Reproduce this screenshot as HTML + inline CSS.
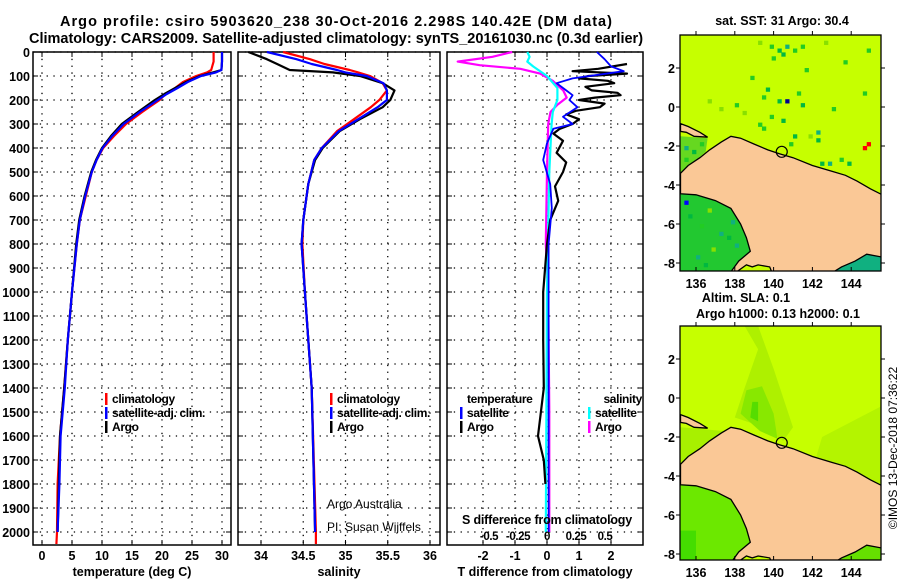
<!DOCTYPE html>
<html><head><meta charset="utf-8"><style>
body{margin:0;background:#fff;}
svg{display:block;font-family:"Liberation Sans",sans-serif;}
.b{font-weight:bold;}
</style></head><body>
<svg id="c" width="900" height="580" viewBox="0 0 900 580" xmlns="http://www.w3.org/2000/svg">
<text x="336" y="26" text-anchor="middle" class="b" font-size="14.5" textLength="552" lengthAdjust="spacing">Argo profile: csiro 5903620_238 30-Oct-2016 2.298S 140.42E (DM data)</text>
<text x="336" y="43" text-anchor="middle" class="b" font-size="14.5">Climatology: CARS2009. Satellite-adjusted climatology: synTS_20161030.nc (0.3d earlier)</text>
<g id="g"></g>
</svg>
<script>
// ---------- data ----------
const tDepthArgo=[0,40,75,85,100,125,150,175,200,250,300,350,400,450,500,600,700,800,1000,1200,1400,1600,1800,2000];
const tArgo=[30.0,30.0,29.9,28.5,26.3,24.0,22.2,20.4,18.8,16.0,13.3,11.5,10.0,9.0,8.2,7.1,6.2,5.7,5.0,4.3,3.7,3.0,2.8,2.6];
const tDepthSat=[0,40,75,85,100,125,150,175,200,250,300,350,400,450,500,600,700,800,1000,1200,1400,1600,1800,2000];
const tSat=[30.0,30.0,29.9,29.0,26.5,24.3,22.6,20.8,19.3,16.3,13.6,11.7,10.1,9.1,8.3,7.2,6.3,5.8,5.0,4.3,3.8,3.1,2.9,2.6];
const tDepthClim=[0,40,75,85,100,125,150,175,200,250,300,350,400,450,500,600,700,800,1000,1200,1400,1600,1800,2000,2050];
const tClim=[28.6,28.6,28.2,27.5,25.7,23.5,22.2,20.6,19.6,16.7,14.0,12.0,10.2,9.1,8.3,7.3,6.3,5.8,5.0,4.3,3.7,3.0,2.6,2.5,2.4];
const sDepth=[0,30,50,75,85,100,130,160,200,230,280,330,400,450,550,700,800,1000,1400,2000];
const sArgo=[33.85,34.07,34.19,34.34,34.85,35.17,35.44,35.58,35.53,35.44,35.17,34.93,34.73,34.64,34.56,34.5,34.48,34.52,34.6,34.64];
const sSat=[34.07,34.42,34.6,34.9,35.0,35.25,35.45,35.49,35.49,35.38,35.15,34.92,34.72,34.63,34.56,34.5,34.48,34.52,34.6,34.64];
const sDepthClim=[0,30,50,75,85,100,130,160,200,230,280,330,400,450,550,700,800,1000,1400,2000,2050];
const sClim=[34.26,34.58,34.75,35.05,35.15,35.29,35.44,35.49,35.4,35.3,35.1,34.9,34.72,34.63,34.56,34.5,34.49,34.52,34.6,34.65,34.65];
const dtArgoDepth=[50,70,80,90,100,110,120,130,145,160,170,180,190,200,215,230,245,260,280,300,320,340,370,420,460,500,560,620,700,800,1000,1200,1400,1600,1700,1800];
const dtArgo=[2.5,1.6,0.8,2.5,1.3,1.0,1.9,2.1,1.2,1.4,2.2,2.3,1.5,1.0,1.8,1.65,0.9,0.6,1.0,0.8,0.4,0.2,0.5,0.3,0.6,0.5,0.25,0.35,0.1,0.0,-0.12,-0.12,-0.1,-0.28,-0.1,-0.05];
const dtSatDepth=[0,30,60,80,110,130,160,180,200,230,270,300,320,380,450,550,650,800,1000,1500,2000];
const dtSat=[1.56,1.8,2.0,2.4,0.8,0.3,0.6,0.8,0.7,0.95,0.5,0.8,0.2,0.0,-0.12,0.1,0.15,0.05,0.05,0.05,0.05];
const dsArgoDepth=[0,20,40,55,70,90,120,160,190,220,250,300,500,800,1000,1500,2000];
const dsArgo=[-0.30,-0.47,-0.77,-0.58,-0.23,-0.06,0.05,0.14,0.17,0.09,0.03,0.01,0.0,-0.01,0.01,0.02,0.02];
const dsSatDepth=[0,20,40,60,100,150,200,250,300,500,1000,2000];
const dsSat=[-0.17,-0.15,-0.17,-0.12,0.0,0.09,0.09,0.05,0.04,0.02,0.0,-0.01];
const tTicks=[0,5,10,15,20,25,30];
const sTicks=[34,34.5,35,35.5,36];
const sTickLabels=["34","34.5","35","35.5","36"];
const dtTicks=[-2,-1,0,1,2];
const dsTicks=[-0.5,-0.25,0,0.25,0.5];
const dsTickLabels=["-0.5","-0.25","0","0.25","0.5"];
const depthTicks=[0,100,200,300,400,500,600,700,800,900,1000,1100,1200,1300,1400,1500,1600,1700,1800,1900,2000];
const lonTicks=[136,138,140,142,144];
const latTicks=[2,0,-2,-4,-6,-8];
// ---------- helpers ----------
const NS="http://www.w3.org/2000/svg";
const G=document.getElementById('g');
function mk(tag,attrs,parent){const e=document.createElementNS(NS,tag);for(const k in attrs)e.setAttribute(k,attrs[k]);(parent||G).appendChild(e);return e;}
function txt(x,y,s,size,anchor,bold,parent){const e=mk('text',{x:x,y:y,'font-size':size,'text-anchor':anchor||'start','font-weight':bold===false?'normal':'bold'},parent);e.textContent=s;return e;}
const yD=d=>52+0.24*d;
const PY0=52,PY1=545;
const panels=[
 {x0:33,x1:231,f:v=>42+6*v,ticks:tTicks,labels:tTicks.map(String),title:"temperature (deg C)",name:"temperature-panel"},
 {x0:238,x1:440,f:v=>261+84.5*(v-34),ticks:sTicks,labels:sTickLabels,title:"salinity",name:"salinity-panel"},
 {x0:447,x1:643,f:v=>547+32*v,ticks:dtTicks,labels:dtTicks.map(String),title:"T difference from climatology",name:"difference-panel"}];
const fS=v=>547+116*v;
panels.forEach((p,i)=>{
  const g=mk('g',{});
  
  
  depthTicks.forEach(d=>{const y=yD(d);
    const l=mk('line',{x1:p.x0,x2:p.x1,y1:y,y2:y,stroke:'#000','stroke-width':1.3,'stroke-dasharray':'1.3 5.5'},g);
    
    mk('line',{x1:p.x0,x2:p.x0+5,y1:y,y2:y,stroke:'#000'},g);mk('line',{x1:p.x1-5,x2:p.x1,y1:y,y2:y,stroke:'#000'},g);
    if(i===0){const t=txt(30,y+5,String(d),12.5,'end',true,g);}
  });
  p.ticks.forEach((v,k)=>{const x=p.f(v);
    const l=mk('line',{x1:x,x2:x,y1:PY0,y2:PY1,stroke:'#000','stroke-width':1.3,'stroke-dasharray':'1.3 5.5'},g);
    
    mk('line',{x1:x,x2:x,y1:PY1,y2:PY1-5,stroke:'#000'},g);mk('line',{x1:x,x2:x,y1:PY0,y2:PY0+5,stroke:'#000'},g);
    const t=txt(x,560,p.labels[k],12.5,'middle',true,g);
  });
  const r=mk('rect',{x:p.x0,y:PY0,width:p.x1-p.x0,height:PY1-PY0,fill:'none',stroke:'#000','stroke-width':1.5},g);
  
  const at=txt((p.x0+p.x1)/2,576,p.title,12.5,'middle',true,g);
});
function line(xs,ds,fx,color,name,w){
  const pts=xs.map((v,k)=>fx(v).toFixed(1)+','+yD(ds[k]).toFixed(1)).join(' ');
  const e=mk('polyline',{points:pts,fill:'none',stroke:color,'stroke-width':w||2.2,'stroke-linejoin':'round'});
  
}
const P=panels;
line(tClim,tDepthClim,P[0].f,'#f00','temp-climatology-line');
line(tArgo,tDepthArgo,P[0].f,'#000','temp-argo-line');
line(tSat,tDepthSat,P[0].f,'#00f','temp-satellite-line');
line(sClim,sDepthClim,P[1].f,'#f00','salinity-climatology-line');
line(sArgo,sDepth,P[1].f,'#000','salinity-argo-line');
line(sSat,sDepth,P[1].f,'#00f','salinity-satellite-line');
line(dsArgo,dsArgoDepth,fS,'#f0f','sdiff-argo-line');
line(dsSat,dsSatDepth,fS,'#0ff','sdiff-satellite-line');
line(dtArgo,dtArgoDepth,P[2].f,'#000','tdiff-argo-line');
line(dtSat,dtSatDepth,P[2].f,'#00f','tdiff-satellite-line',1.8);
dsTicks.forEach((v,k)=>{const t=txt(fS(v),540,dsTickLabels[k],11.5,'middle',true);t.setAttribute('letter-spacing','-0.4');});
{const t=txt(547,524,'S difference from climatology',12.5,'middle',true);t.setAttribute('letter-spacing','-0.2');}
function leg(x,y,color,label,name){
  const g=mk('g',{});
  mk('rect',{x:x,y:y-10,width:2.5,height:12,fill:color},g);
  const t=txt(x+7,y,label,12,'start',true,g);t.setAttribute('letter-spacing','-0.35');
}
leg(105,403,'#f00','climatology','legend-climatology');
leg(105,417,'#00f','satellite-adj. clim.','legend-satellite-adj');
leg(105,431,'#000','Argo','legend-argo');
leg(330,403,'#f00','climatology','legend-climatology-sal');
leg(330,417,'#00f','satellite-adj. clim.','legend-satellite-adj-sal');
leg(330,431,'#000','Argo','legend-argo-sal');
{const t=txt(467,403,'temperature',12,'start',true);t.setAttribute('letter-spacing','-0.35');}
leg(460,417,'#00f','satellite','legend-t-satellite');
leg(460,431,'#000','Argo','legend-t-argo');
{const t=txt(642,403,'salinity',12,'end',true);t.setAttribute('letter-spacing','-0.35');}
leg(588,417,'#0ff','satellite','legend-s-satellite');
leg(588,431,'#f0f','Argo','legend-s-argo');
{const t=txt(327,508,'Argo Australia',12,'start',false);
 const t2=txt(327,531,'PI: Susan Wijffels',12,'start',false);}

// ---------- maps ----------
const landMain=[[135.2,-3.4],[135.6,-3.0],[136.2,-2.6],[136.7,-2.2],[137.3,-1.8],[137.8,-1.5],[138.3,-1.6],[139,-1.9],[139.7,-2.2],[140.3,-2.4],[141,-2.6],[142,-3.0],[143,-3.3],[143.7,-3.5],[144.3,-3.8],[145,-4.2],[145.6,-4.5],[145.6,-7.7],[144.8,-7.55],[144.2,-7.9],[143.5,-8.2],[143.1,-8.45],[139.9,-8.45],[139.8,-8.2],[139.2,-8.1],[138.9,-8.2],[138.6,-8.1],[138.1,-8.45],[137.8,-8.45],[138.2,-7.9],[138.8,-7.4],[138.6,-6.7],[138.3,-6.0],[137.8,-5.2],[137,-4.8],[136,-4.5],[135.2,-4.45]];
const landIsland=[[135.2,-0.85],[135.6,-1.0],[136.2,-1.3],[136.6,-1.55],[135.9,-1.5],[135.5,-1.3],[135.2,-1.25]];
const sstCells=[[139.8,3.2,1],[140.2,3.0,2],[140.6,3.2,3],[140.4,2.8,2],[141,3.0,1],[139.9,2.6,1],[141.4,3.2,1],[139.2,3.4,0],[138.8,1.6,1],[139.6,1.0,2],[139.4,0.6,1],[140.6,0.4,4],[140.2,0.4,2],[141.2,0.8,1],[141.4,0.2,2],[139.8,-0.4,1],[140.4,-0.6,2],[139.2,-0.8,1],[142.2,-1.2,3],[142.2,-1.6,2],[141.8,-1.4,0],[142.4,-2.8,2],[142.8,-2.8,3],[143.4,-2.6,1],[143.8,-2.8,2],[144.6,-2.0,5],[144.8,-1.8,5],[144.8,3.0,1],[143.6,2.4,1],[144.6,0.8,1],[137.2,0.0,0],[138.0,0.2,1],[140.8,-1.8,1],[141.0,-1.4,2],[139.4,-1.0,1],[142.6,3.4,0],[143.0,0.0,1],[141.6,2.0,1],[138.4,-0.2,0],[136.6,0.4,0],[135.4,-2.0,3],[135.8,-2.2,2],[135.4,-2.6,1],[136.2,-1.8,1],[135.4,-4.8,6],[135.6,-5.5,2],[136.2,-6.0,1],[136.6,-5.2,0],[137.2,-6.4,3],[136.8,-7.2,0],[137.6,-6.6,2],[136.0,-7.6,3],[137.8,-5.8,3],[138.0,-7.0,3],[136.4,-8.0,2]];
const sstColors=['#88e000','#22cc22','#00b840','#10b080','#000090','#ff0000','#0000ff'];
function makeMap(x0,y0,x1,y1,lat0pix,name,titleLines,titleYs,kind){
  const g=mk('g',{});
  const lx=lon=>696+19.4*(lon-136);
  const ly=lat=>lat0pix-19.5*lat;
  const cid='clip'+name;
  const cp=mk('clipPath',{id:cid},g);mk('rect',{x:x0,y:y0,width:x1-x0,height:y1-y0},cp);
  const inner=mk('g',{'clip-path':'url(#'+cid+')'},g);
  mk('rect',{x:x0,y:y0,width:x1-x0,height:y1-y0,fill:'#c6ff00'},inner);
  const poly=pts=>pts.map(p=>lx(p[0]).toFixed(1)+','+ly(p[1]).toFixed(1)).join(' ');
  if(kind==='sst'){
    mk('polygon',{points:poly([[135.2,-1.5],[136.6,-1.6],[136.5,-2.3],[135.8,-2.9],[135.2,-3.5]]),fill:'#66d820'},inner);
    mk('polygon',{points:poly([[135.2,-4.4],[137,-4.7],[137.8,-5.1],[138.4,-6.0],[138.8,-7.4],[138.1,-8.5],[135.2,-8.5]]),fill:'#22c830'},inner);
    mk('polygon',{points:poly([[143,-8.5],[143.5,-8.1],[144.2,-7.8],[144.8,-7.5],[145.6,-7.6],[145.6,-8.5]]),fill:'#10b080'},inner);
    sstCells.forEach(c=>{const s=19.4*0.22;mk('rect',{x:lx(c[0]),y:ly(c[1]),width:s,height:s,fill:sstColors[c[2]]},inner);});
  } else {
    mk('polygon',{points:poly([[138.5,3.7],[139.2,2.5],[138.5,0.5],[138.0,-1.0],[139.5,-1.5],[140.5,-2.2],[141,-1.5],[140.5,0],[140.0,1.5],[139.2,3.7]]),fill:'#aef000'},inner);
    mk('polygon',{points:poly([[138.6,0.4],[138.3,-0.8],[139.3,-1.7],[140.2,-2.1],[140.0,-0.8],[139.4,0.6]]),fill:'#88e800'},inner);
    mk('polygon',{points:poly([[138.9,-0.2],[138.8,-1.0],[139.2,-1.2],[139.2,-0.2]]),fill:'#55dd00'},inner);
    mk('polygon',{points:poly([[142.5,-2.0],[145.6,-0.4],[145.6,-4.5],[143,-3.3],[142.2,-3.0]]),fill:'#b4f400'},inner);
    mk('polygon',{points:poly([[135.2,-1.5],[137.5,-1.7],[136.8,-2.4],[135.2,-3.5]]),fill:'#a8f000'},inner);
    mk('polygon',{points:poly([[135.2,-4.4],[137,-4.7],[137.8,-5.1],[138.4,-6.0],[138.8,-7.4],[138.1,-8.5],[135.2,-8.5]]),fill:'#6ce800'},inner);
    mk('polygon',{points:poly([[135.2,-6.8],[136,-6.8],[136,-8.5],[135.2,-8.5]]),fill:'#44dd00'},inner);
    mk('polygon',{points:poly([[143,-8.5],[143.5,-8.1],[144.2,-7.8],[144.8,-7.5],[145.6,-7.6],[145.6,-8.5]]),fill:'#66e000'},inner);
  }
  const lm=mk('polygon',{points:poly(landMain),fill:'#fac896',stroke:'#000','stroke-width':1.3},inner);
  
  mk('polygon',{points:poly(landIsland),fill:'#fac896',stroke:'#000','stroke-width':1.3},inner);
  const fl=mk('circle',{cx:lx(140.42),cy:ly(-2.298),r:5.5,fill:'none',stroke:'#000','stroke-width':1.2},inner);
  
  mk('rect',{x:x0,y:y0,width:x1-x0,height:y1-y0,fill:'none',stroke:'#000','stroke-width':1.3},g);
  lonTicks.forEach(v=>{const x=lx(v);mk('line',{x1:x,x2:x,y1:y1,y2:y1-4,stroke:'#000'},g);mk('line',{x1:x,x2:x,y1:y0,y2:y0-4,stroke:'#000'},g);
    const t=txt(x,y1+17,String(v),12.5,'middle',true,g);});
  latTicks.forEach(v=>{const y=ly(v);mk('line',{x1:x0,x2:x0-4,y1:y,y2:y,stroke:'#000'},g);mk('line',{x1:x1,x2:x1+4,y1:y,y2:y,stroke:'#000'},g);
    const t=txt(x0-5,y+5,String(v),12.5,'end',true,g);});
  titleLines.forEach((s,k)=>{const t=txt(titleYs[k][0],titleYs[k][1],s,12.5,'middle',true,g);});
}
makeMap(680,35,881,271,107,'sst-map',['sat.  SST: 31  Argo: 30.4'],[[782,25]],'sst');
makeMap(680,326,881,560,398,'sla-map',['Altim.  SLA: 0.1','Argo h1000: 0.13 h2000: 0.1'],[[746,302],[778,318]],'sla');
{const t=txt(0,0,'©IMOS 13-Dec-2018 07:36:22',12,'middle',false);t.setAttribute('transform','translate(897,448) rotate(-90)');}
</script>
</body></html>
